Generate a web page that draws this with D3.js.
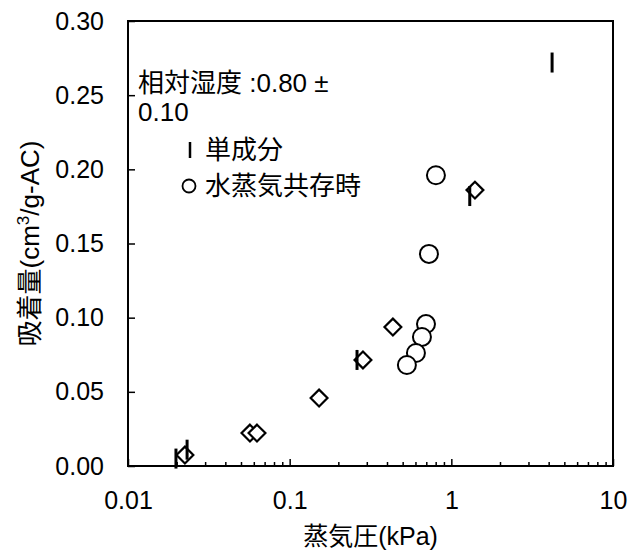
<!DOCTYPE html>
<html>
<head>
<meta charset="utf-8">
<script src="https://cdn.jsdelivr.net/npm/d3@7"></script>
<style>
  body { margin: 0; background: #fff; }
  text { font-family: "Liberation Sans", Arial, "Noto Sans CJK JP", sans-serif; fill: #000; }
</style>
</head>
<body>
<div id="plot"></div>
<script>
// 単成分 (vertical bar marker)
const singleX = [4.2, 0.0198, 0.0232, 0.261, 1.30];
const singleY = [0.272, 0.005, 0.011, 0.0715, 0.182];

// diamond series
const diamondX = [0.0225, 0.0568, 0.0628, 0.152, 0.284, 0.435, 1.40];
const diamondY = [0.0074, 0.0222, 0.0222, 0.0458, 0.0715, 0.0937, 0.186];

// 水蒸気共存時 (circles)
const vaporX = [0.803, 0.727, 0.697, 0.658, 0.604, 0.531];
const vaporY = [0.196, 0.143, 0.0957, 0.087, 0.0762, 0.0681];

const xTicks = [0.01, 0.1, 1, 10];
const xTickLabels = ["0.01", "0.1", "1", "10"];
const yTicks = [0, 0.05, 0.10, 0.15, 0.20, 0.25, 0.30];

const margin = { top: 21, right: 27, bottom: 88, left: 128 };
const W = 640, H = 554;
const width = W - margin.left - margin.right;
const height = H - margin.top - margin.bottom;

const x = d3.scaleLog().domain([0.01, 10]).range([0, width]);
const y = d3.scaleLinear().domain([0, 0.30]).range([height, 0]);

const svg = d3.select("#plot").append("svg")
    .attr("width", W)
    .attr("height", H);

const g = svg.append("g")
    .attr("transform", `translate(${margin.left},${margin.top})`);

// frame
g.append("rect")
    .attr("width", width).attr("height", height)
    .attr("fill", "none").attr("stroke", "#000").attr("stroke-width", 2);

// y axis (ticks inside)
const yAxis = g.append("g")
    .call(d3.axisLeft(y).tickValues(yTicks).tickFormat(d3.format(".2f")).tickSize(-7).tickPadding(24));
yAxis.select(".domain").remove();
yAxis.selectAll("line").attr("stroke", "#000").attr("stroke-width", 1.5);
yAxis.selectAll("text").attr("font-size", 25);

// x axis major ticks
const xAxis = g.append("g")
    .attr("transform", `translate(0,${height})`)
    .call(d3.axisBottom(x).tickValues(xTicks).tickFormat((d, i) => xTickLabels[i]).tickSize(-7).tickPadding(25));
xAxis.select(".domain").remove();
xAxis.selectAll("line").attr("stroke", "#000").attr("stroke-width", 1.5);
xAxis.selectAll("text").attr("font-size", 25);

// x axis minor ticks
const minor = [];
for (let e = -2; e < 1; e++) {
  for (let k = 2; k <= 9; k++) minor.push(k * Math.pow(10, e));
}
g.append("g")
    .attr("transform", `translate(0,${height})`)
    .call(d3.axisBottom(x).tickValues(minor).tickFormat("").tickSize(-4))
  .call(a => a.select(".domain").remove())
  .selectAll("line").attr("stroke", "#000").attr("stroke-width", 1.5);

// diamonds
const diamond = d3.symbol().type(d3.symbolDiamond2).size(2 * 9.5 * 9.5);
g.append("g").selectAll("path")
  .data(diamondX)
  .join("path")
    .attr("d", diamond)
    .attr("transform", (d, i) => `translate(${x(d)},${y(diamondY[i])})`)
    .attr("fill", "#fff")
    .attr("stroke", "#000")
    .attr("stroke-width", 2.2);

// single component bars
g.append("g").selectAll("line")
  .data(singleX)
  .join("line")
    .attr("x1", d => x(d)).attr("x2", d => x(d))
    .attr("y1", (d, i) => y(singleY[i]) - 10)
    .attr("y2", (d, i) => y(singleY[i]) + 10)
    .attr("stroke", "#000")
    .attr("stroke-width", 3);

// circles
g.append("g").selectAll("circle")
  .data(vaporX)
  .join("circle")
    .attr("cx", d => x(d))
    .attr("cy", (d, i) => y(vaporY[i]))
    .attr("r", 9)
    .attr("fill", "#fff")
    .attr("stroke", "#000")
    .attr("stroke-width", 2);

// legend / annotation
svg.append("text").attr("x", 138).attr("y", 92).attr("font-size", 26).text("相対湿度 :0.80 ±");
svg.append("text").attr("x", 138).attr("y", 121).attr("font-size", 26).text("0.10");
svg.append("line")
    .attr("x1", 190).attr("x2", 190).attr("y1", 142).attr("y2", 158)
    .attr("stroke", "#000").attr("stroke-width", 2.5);
svg.append("text").attr("x", 205).attr("y", 159).attr("font-size", 26).text("単成分");
svg.append("circle")
    .attr("cx", 189).attr("cy", 186).attr("r", 6.5)
    .attr("fill", "#fff").attr("stroke", "#000").attr("stroke-width", 1.8);
svg.append("text").attr("x", 205).attr("y", 195).attr("font-size", 26).text("水蒸気共存時");

// axis titles
svg.append("text")
    .attr("x", margin.left + width / 2).attr("y", 545)
    .attr("text-anchor", "middle").attr("font-size", 25)
    .text("蒸気圧(kPa)");

const yt = svg.append("text")
    .attr("transform", `translate(39,${margin.top + height / 2}) rotate(-90)`)
    .attr("text-anchor", "middle").attr("font-size", 26);
yt.append("tspan").text("吸着量(cm");
yt.append("tspan").attr("font-size", 17).attr("dy", -10).text("3");
yt.append("tspan").attr("dy", 10).text("/g-AC)");
</script>
</body>
</html>
